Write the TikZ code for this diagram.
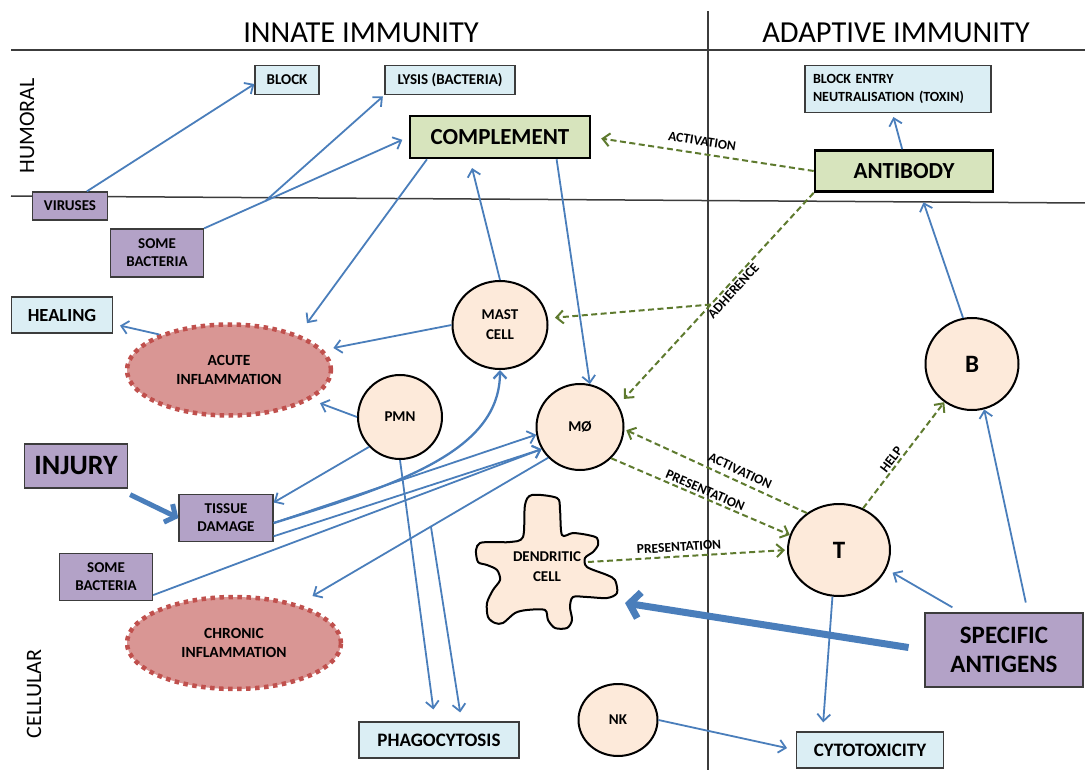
\documentclass[tikz,border=0pt]{standalone}
\usepackage{fontspec}
\setmainfont{Carlito}
\usetikzlibrary{arrows.meta,shapes.geometric,calc}
\definecolor{outblue}{HTML}{DBEEF4}
\definecolor{srcpurple}{HTML}{B3A2C7}
\definecolor{molgreen}{HTML}{D7E4BD}
\definecolor{cellpeach}{HTML}{FDEADA}
\definecolor{inflamfill}{HTML}{D99694}
\definecolor{inflamline}{HTML}{C0504D}
\definecolor{flowblue}{HTML}{4A7EBB}
\definecolor{sigolive}{HTML}{5E7A2E}
\definecolor{rulegray}{HTML}{3C3C3C}
\newcommand{\fsz}[2]{\fontsize{#1}{#2}\selectfont}
\begin{document}
\begin{tikzpicture}[x=1pt,y=-1pt,
  divider/.style={draw=rulegray,line width=1.5pt},
  headline/.style={font=\fsz{30.5}{30.5}},
  axislabel/.style={font=\fsz{22}{22},rotate=90},
  box/.style={rectangle,draw=rulegray,line width=1.3pt,inner sep=0pt,align=center,font=\bfseries\fsz{15}{18}},
  outbox/.style={box,fill=outblue},
  srcbox/.style={box,fill=srcpurple},
  molbox/.style={box,fill=molgreen,draw=black,line width=2.6pt,font=\bfseries\fsz{23}{26}},
  cell/.style={ellipse,draw=black,line width=2pt,fill=cellpeach,inner sep=0pt,align=center,font=\bfseries\fsz{15}{20}},
  inflam/.style={ellipse,fill=inflamfill,draw=inflamline,line width=4.5pt,dash pattern=on 4.5pt off 4.5pt,inner sep=0pt,align=center,font=\bfseries\fsz{15.5}{19}},
  flow/.style={draw=flowblue,line width=1.8pt,-{Straight Barb[length=7pt,width=13pt]}},
  injarrow/.style={draw=flowblue,line width=5pt,-{Straight Barb[length=8pt,width=20pt]}},
  bigarrow/.style={draw=flowblue,line width=7pt,-{Straight Barb[length=10pt,width=26pt]}},
  sigline/.style={draw=sigolive,line width=2pt,dash pattern=on 6pt off 3.5pt,-{Straight Barb[length=7pt,width=13pt]}},
  siglabel/.style={font=\bfseries\fsz{13.5}{14},inner sep=2pt},
  dcline/.style={draw=black,line width=2pt,fill=cellpeach}]
\useasboundingbox (0,0) rectangle (1085,770);
\draw[divider] (11,50) -- (1085,50);
\draw[divider] (11,196) -- (1085,203);
\draw[divider] (708,11) -- (708,770);
\node[headline] (innate) at (361,33) {INNATE IMMUNITY};
\node[headline] (adaptive) at (896,33) {ADAPTIVE IMMUNITY};
\node[axislabel] (humoral) at (27,126) {HUMORAL};
\node[axislabel] (cellular) at (34,694) {CELLULAR};

\node[outbox,minimum width=64pt,minimum height=29pt] (block) at (287,80) {BLOCK};
\node[outbox,minimum width=130pt,minimum height=29pt] (lysis) at (450,80) {LYSIS (BACTERIA)};
\node[outbox,minimum width=186pt,minimum height=47pt,align=left,text width=170pt,font=\bfseries\fsz{14}{17.5}] (entry) at (898,89) {BLOCK ENTRY\\NEUTRALISATION (TOXIN)};
\node[molbox,minimum width=180pt,minimum height=42pt] (comp) at (500,137) {COMPLEMENT};
\node[molbox,minimum width=178pt,minimum height=41pt] (ab) at (904,171) {ANTIBODY};
\node[srcbox,minimum width=75pt,minimum height=28pt] (vir) at (70,206) {VIRUSES};
\node[srcbox,minimum width=93pt,minimum height=48pt] (bact1) at (157,253) {SOME\\BACTERIA};
\node[outbox,minimum width=101pt,minimum height=36pt,font=\bfseries\fsz{18.5}{20}] (heal) at (62,315) {HEALING};
\node[inflam,minimum width=204pt,minimum height=91pt] (acute) at (229,370) {ACUTE\\INFLAMMATION};
\node[cell,minimum width=95pt,minimum height=88pt] (mast) at (500,325) {MAST\\CELL};
\node[cell,minimum width=84pt,minimum height=84pt] (pmn) at (400,417) {PMN};
\node[cell,minimum width=87pt,minimum height=86pt] (mac) at (580,427) {MØ};
\node[cell,minimum width=93pt,minimum height=92pt,font=\bfseries\fsz{25}{25}] (bcell) at (972,364) {B};
\node[cell,minimum width=102pt,minimum height=92pt,font=\bfseries\fsz{25}{25}] (tcell) at (839,550) {T};
\node[cell,minimum width=79pt,minimum height=72pt] (nk) at (618,720) {NK};
\node[srcbox,minimum width=103pt,minimum height=44pt,font=\bfseries\fsz{28}{28}] (injury) at (76,466) {INJURY};
\node[srcbox,minimum width=94pt,minimum height=47pt] (tissue) at (226,518) {TISSUE\\DAMAGE};
\node[srcbox,minimum width=93pt,minimum height=47pt] (bact2) at (106,577) {SOME\\BACTERIA};
\node[inflam,minimum width=214pt,minimum height=92pt] (chronic) at (234,643) {CHRONIC\\INFLAMMATION};
\node[outbox,minimum width=160pt,minimum height=36pt,font=\bfseries\fsz{19}{19}] (phago) at (439,740) {PHAGOCYTOSIS};
\node[outbox,minimum width=147pt,minimum height=36pt,font=\bfseries\fsz{19}{19}] (cyto) at (870,750) {CYTOTOXICITY};
\node[srcbox,minimum width=158pt,minimum height=74pt,font=\bfseries\fsz{25}{29}] (antigen) at (1004,650) {SPECIFIC\\ANTIGENS};

\draw[dcline] plot[smooth cycle,tension=0.5] coordinates {(523,537) (525,505) (532,495) (557,498) (560,510) (562,535) (573,533) (588,535) (597,538) (598,545) (593,552) (585,558) (587,567) (607,575) (615,580) (617,593) (607,598) (587,597) (573,597) (570,607) (572,620) (567,628) (555,628) (548,620) (545,610) (527,610) (515,613) (503,623) (495,623) (488,617) (487,603) (493,590) (500,580) (497,570) (487,565) (478,562) (476,550) (480,543) (493,542) (510,542)};
\node[font=\bfseries\fsz{15}{20},align=center] (dc) at (547,567) {DENDRITIC\\CELL};
\coordinate (dcR) at (588,562);
\coordinate (dcE) at (625,603);

\draw[flow] (vir.41) -- (block.187);
\draw[flow,shorten >=7pt] (bact1.north east) -- coordinate[pos=0.3] (fork1) (comp.west);
\draw[flow,shorten >=2pt] (fork1) -- (lysis.south west);
\draw[flow,shorten >=14pt] ($(comp.south west)!0.1!(comp.south east)$) -- (acute.27);
\draw[flow,shorten >=7pt] (acute.153) -- (heal.-10);
\draw[flow,shorten >=10pt] (mast.west) -- (acute.12);
\draw[flow,shorten >=10pt] (pmn.west) -- (acute.-20);
\draw[flow] ($(comp.south west)!0.81!(comp.south east)$) -- (mac.77);
\draw[flow,shorten >=9pt] (mast.north) -- ($(comp.south west)!0.335!(comp.south east)$);
\draw[flow] (pmn.224) -- (tissue.18);
\draw[injarrow] ([shift={(2pt,-6pt)}]injury.south east) -- (tissue.west);
\draw[flow,line width=2.3pt] (tissue.-6) .. controls +(130,-40) and +(0,80) .. (mast.south);
\draw[flow] (tissue.-6) -- (mac.190);
\draw[flow] (tissue.-21) -- (mac.210);
\draw[flow] (bact2.-21) -- (mac.210);
\draw[flow,shorten >=16pt] (mac.224) -- coordinate[pos=0.47] (fork2) (chronic.31);
\draw[flow,shorten >=12pt] (pmn.south) -- ($(phago.north west)!0.475!(phago.north east)$);
\draw[flow,shorten >=9pt] (fork2) -- ($(phago.north west)!0.64!(phago.north east)$);
\draw[flow,shorten >=9pt] (tcell.262) -- ($(cyto.north west)!0.18!(cyto.north east)$);
\draw[flow,shorten >=9pt] (nk.east) -- (cyto.west);
\draw[flow,shorten <=10pt,shorten >=7pt] ($(antigen.north west)!0.23!(antigen.north east)$) -- (tcell.-22);
\draw[flow,shorten <=10pt] ($(antigen.north west)!0.65!(antigen.north east)$) -- (bcell.-75);
\draw[flow,shorten >=10pt] (bcell.101) -- ($(ab.south west)!0.59!(ab.south east)$);
\draw[flow,shorten >=4pt] ($(ab.north west)!0.49!(ab.north east)$) -- ($(entry.south west)!0.47!(entry.south east)$);
\draw[bigarrow,shorten <=16pt] (antigen.west) -- (dcE);

\draw[sigline,shorten >=10pt] (ab.west) -- node[siglabel,sloped,above=5pt,pos=0.51] {ACTIVATION} (comp.east);
\draw[sigline,shorten >=8pt] (ab.south west) -- node[siglabel,sloped,below,pos=0.44] {ADHERENCE} coordinate[pos=0.527] (fork3) (mac.30);
\draw[sigline,shorten >=7pt] (fork3) -- (mast.8);
\draw[sigline,shorten >=2pt] (tcell.131) -- node[siglabel,sloped,above=3pt,pos=0.39] {ACTIVATION} (mac.-3);
\draw[sigline] (mac.-45) -- node[siglabel,sloped,above,pos=0.51] {PRESENTATION} (tcell.163);
\draw[sigline,shorten >=2pt] (dcR) -- node[siglabel,sloped,above=2pt,pos=0.46] {PRESENTATION} (tcell.west);
\draw[sigline] (tcell.60) -- node[siglabel,sloped,above,pos=0.42] {HELP} (bcell.234);
\end{tikzpicture}
\end{document}
